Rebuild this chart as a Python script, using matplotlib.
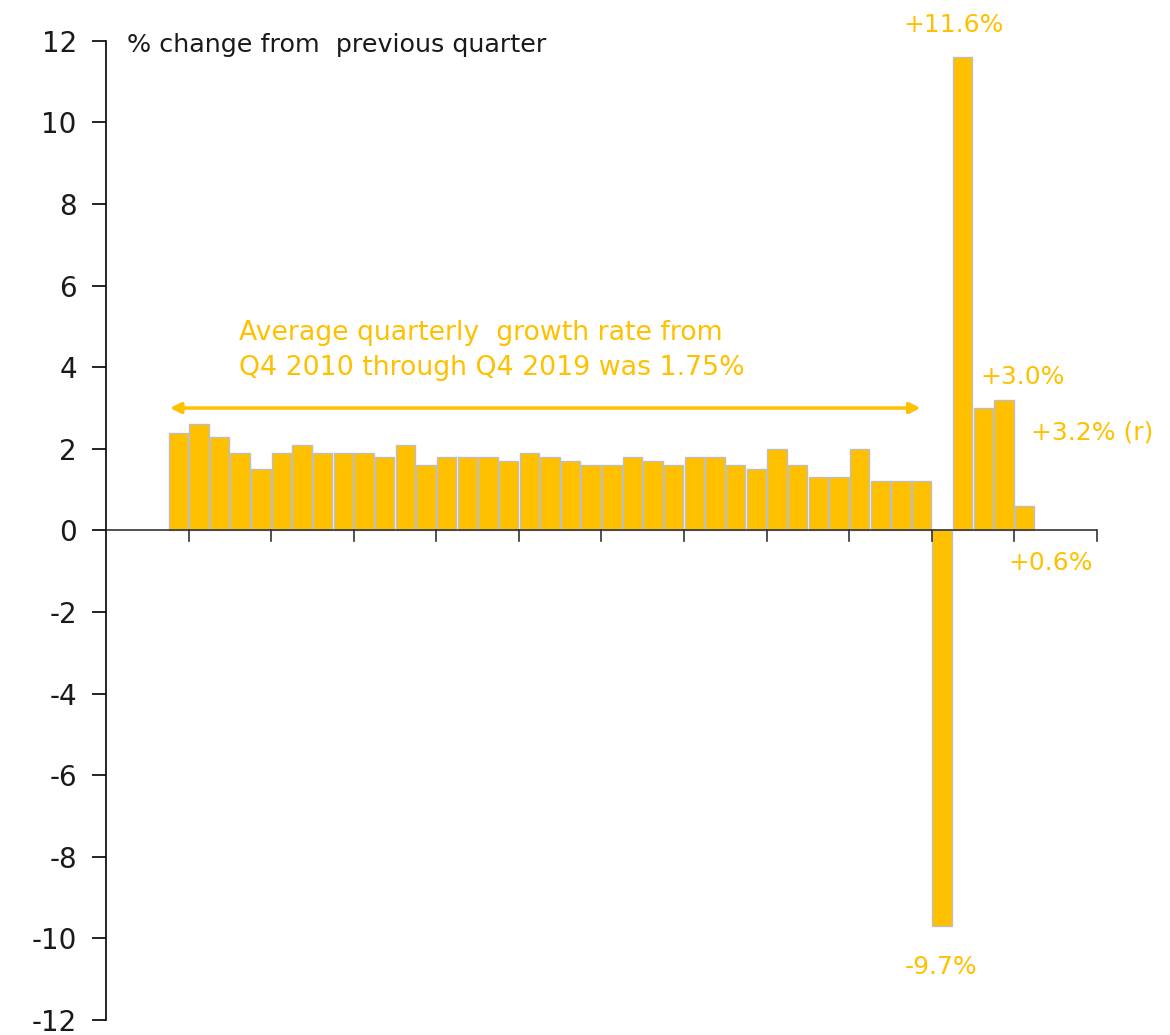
import numpy as np
import matplotlib
matplotlib.use('Agg')
import matplotlib.pyplot as plt

# quarterly % change, Q4 2010 onwards
values = [2.4, 2.6, 2.3, 1.9, 1.5, 1.9, 2.1, 1.9, 1.9, 1.9, 1.8, 2.1,
          1.6, 1.8, 1.8, 1.8, 1.7, 1.9, 1.8, 1.7, 1.6, 1.6, 1.8, 1.7,
          1.6, 1.8, 1.8, 1.6, 1.5, 2.0, 1.6, 1.3, 1.3, 2.0, 1.2, 1.2,
          1.2, -9.7, 11.6, 3.0, 3.2, 0.6]
y_ticks = list(range(-12, 13, 2))
avg_text = 'Average quarterly  growth rate from\nQ4 2010 through Q4 2019 was 1.75%'
labels = {38: '+11.6%', 39: '+3.0%', 40: '+3.2% (r)', 41: '+0.6%', 37: '-9.7%'}

gold = '#FFC000'
plt.rcParams['font.family'] = ['DejaVu Sans']

fig = plt.figure(figsize=(11.7, 10.35), dpi=100)
ax = fig.add_axes([0.0906, 0.0145, 0.847, 0.946])

x = np.arange(len(values))
ax.bar(x, values, width=0.94, color=gold, edgecolor='#BFBFBF', linewidth=1.0, zorder=2)

ax.set_xlim(-3.5, 44.5)
ax.set_ylim(-12, 12)
ax.set_yticks(y_ticks)
ax.set_yticklabels([str(t) for t in y_ticks], fontsize=20, color='#1a1a1a')
ax.tick_params(axis='y', direction='out', length=10, width=1.2, pad=11)

for s in ['top', 'right', 'bottom']:
    ax.spines[s].set_visible(False)
ax.spines['left'].set_linewidth(1.2)
ax.axhline(0, color='#333333', linewidth=1.2, zorder=3)
ax.set_xticks([])
for t in np.arange(0.5, 45, 4):
    ax.plot([t, t], [0, -0.25], color='#333333', linewidth=1.2, clip_on=False, zorder=3)

ax.text(-2.5, 11.9, '% change from  previous quarter', fontsize=18.3, ha='left', va='center', color='#1a1a1a')

ax.annotate('', xy=(-0.4, 3.0), xytext=(35.95, 3.0),
            arrowprops=dict(arrowstyle='<|-|>', color=gold, lw=2.5, mutation_scale=16, shrinkA=0, shrinkB=0))
ax.text(2.95, 4.41, avg_text, fontsize=19.3, color=gold, ha='left', va='center', linespacing=1.45)

ax.text(37.57, 12.38, labels[38], fontsize=18, color=gold, ha='center', va='center', clip_on=False)
ax.text(40.9, 3.75, labels[39], fontsize=18, color=gold, ha='center', va='center')
ax.text(41.3, 2.4, labels[40], fontsize=18, color=gold, ha='left', va='center', clip_on=False)
ax.text(42.27, -0.81, labels[41], fontsize=18, color=gold, ha='center', va='center')
ax.text(36.94, -10.7, labels[37], fontsize=18, color=gold, ha='center', va='center')

fig.savefig('out.png', dpi=100, facecolor='white')
